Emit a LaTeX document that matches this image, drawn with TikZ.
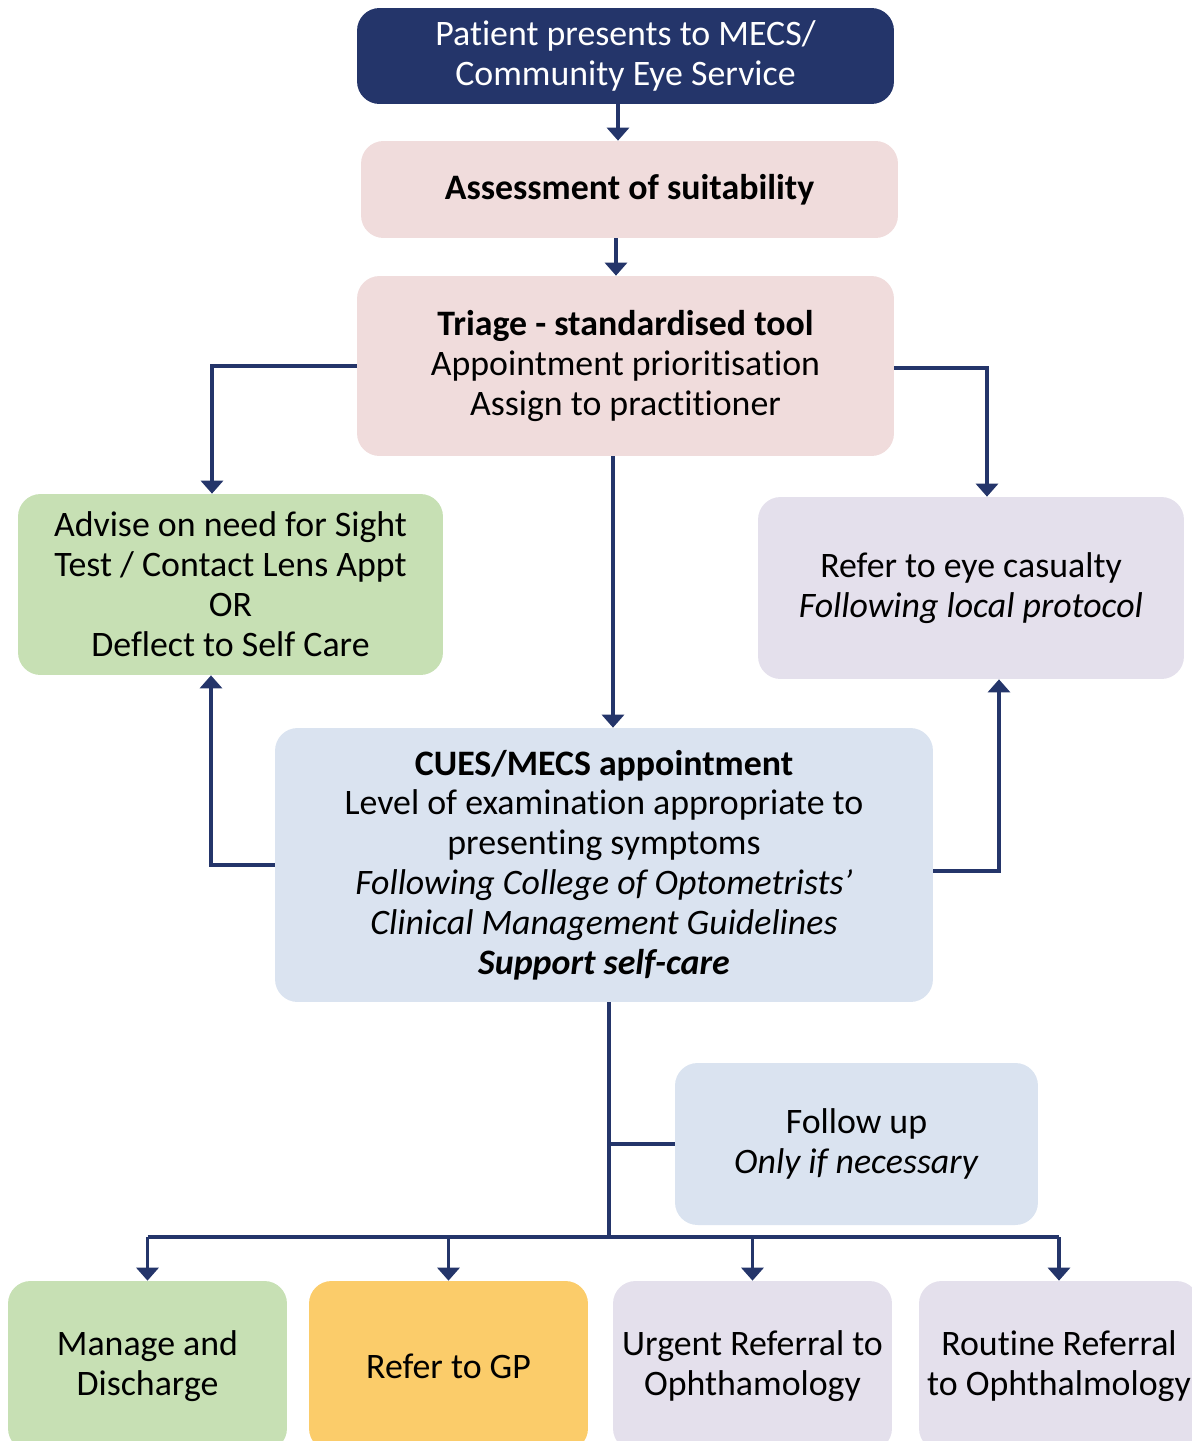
\documentclass[tikz,border=0pt]{standalone}
\usepackage{fontspec}
\setmainfont[Ligatures={NoCommon}]{Carlito}
\usetikzlibrary{arrows.meta,positioning}
\definecolor{navy}{HTML}{24356A}
\definecolor{rosefill}{HTML}{F0DCDC}
\definecolor{leaffill}{HTML}{C7E0B4}
\definecolor{lilacfill}{HTML}{E4E0EC}
\definecolor{skyfill}{HTML}{DAE3F0}
\definecolor{sunfill}{HTML}{FBCC6A}
\tikzset{
	box/.style={rounded corners=0.45cm, align=center, inner sep=0pt, font=\fontsize{20.4}{22.7}\selectfont},
	arr/.style={navy, line width=2pt, -{Triangle[width=0.44cm,length=0.26cm]}},
	link/.style={navy, line width=2pt},
}

\begin{document}
\begin{tikzpicture}[x=0.02cm, y=-0.02cm]
	\useasboundingbox (0,0) rectangle (1192,1441);
	\clip (0,0) rectangle (1192,1441);
	\node[box, fill=navy, text=white, minimum width=10.74cm, minimum height=1.92cm] (top) at (625.5,56) {Patient presents to MECS/\\Community Eye Service};
	\node[box, fill=rosefill, minimum width=10.74cm, minimum height=1.94cm] (assess) at (629.5,189.5) {\textbf{Assessment of suitability}};
	\node[box, fill=rosefill, minimum width=10.74cm, minimum height=3.6cm] (triage) at (625.5,366) {\textbf{Triage - standardised tool}\\Appointment prioritisation\\Assign to practitioner};
	\node[box, fill=leaffill, minimum width=8.5cm, minimum height=3.62cm] (advise) at (230.5,584.5) {Advise on need for Sight\\Test / Contact Lens Appt\\OR\\Deflect to Self Care};
	\node[box, fill=lilacfill, minimum width=8.52cm, minimum height=3.64cm] (casualty) at (971,588) {Refer to eye casualty\\\textit{Following local protocol}};
	\node[box, fill=skyfill, minimum width=13.16cm, minimum height=5.48cm] (cues) at (604,865) {\textbf{CUES/MECS appointment}\\Level of examination appropriate to\\presenting symptoms\\\textit{Following College of Optometrists'}\\\textit{Clinical Management Guidelines}\\\textbf{\textit{Support self-care}}};
	\node[box, fill=skyfill, minimum width=7.26cm, minimum height=3.24cm] (follow) at (856.5,1144) {Follow up\\\textit{Only if necessary}};
	\node[box, fill=leaffill, minimum width=5.58cm, minimum height=3.4cm] (manage) at (147.5,1366) {Manage and\\Discharge};
	\node[box, fill=sunfill, minimum width=5.58cm, minimum height=3.4cm] (gp) at (448.5,1366) {Refer to GP};
	\node[box, fill=lilacfill, minimum width=5.58cm, minimum height=3.4cm] (urgent) at (752.5,1366) {Urgent Referral to\\Ophthamology};
	\node[box, fill=lilacfill, minimum width=5.6cm, minimum height=3.4cm] (routine) at (1059,1366) {Routine Referral\\to Ophthalmology};
	\coordinate (bus) at (609,1237);

	\draw[arr] (top.south -| 618,0) -- (assess.north -| 618,0);
	\draw[arr] (assess.south -| 616,0) -- (triage.north -| 616,0);
	\draw[arr] (triage.west) -| (advise.north -| 212,0);
	\draw[arr] (triage.east |- 0,368) -| (casualty.north -| 987,0);
	\draw[arr] (triage.south -| 613,0) -- (cues.north -| 613,0);
	\draw[arr] (cues.west) -| (advise.south -| 211,0);
	\draw[arr] (cues.east |- 0,871) -| (casualty.south -| 999,0);
	\draw[link] (cues.south -| bus) -- (bus);
	\draw[link] (follow.west) -- (follow.west -| bus);
	\draw[link] (manage.north |- bus) -- (routine.north |- bus);
	\foreach \n in {manage,gp,urgent,routine}
		\draw[arr] (\n.north |- bus) -- (\n.north);
\end{tikzpicture}
\end{document}
